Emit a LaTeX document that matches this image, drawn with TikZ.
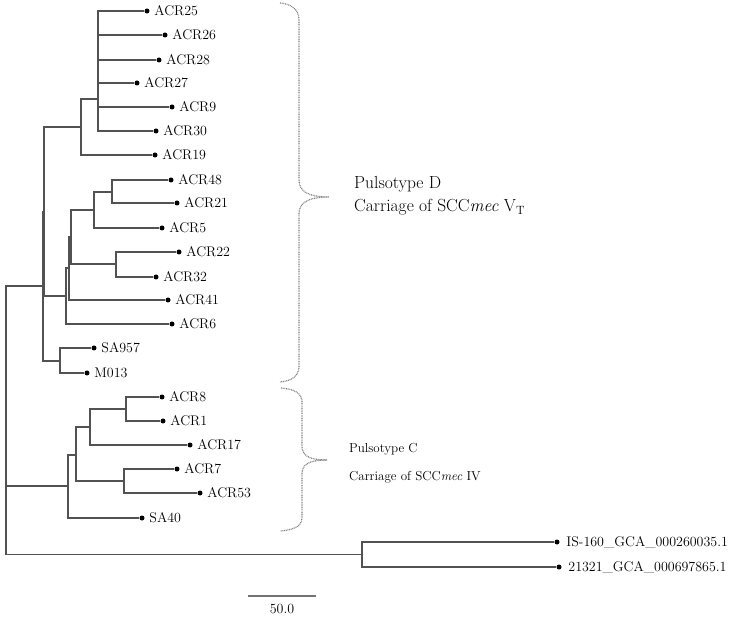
\documentclass[tikz,border=0pt]{standalone}
\usetikzlibrary{positioning}
\begin{document}
\begin{tikzpicture}[x=1pt, y=-1pt,
  branch/.style={line width=1.2pt, black!68},
  leaf/.style={circle, fill=black, inner sep=0pt, minimum size=5pt},
  lbl/.style={inner sep=0pt, font=\fontsize{14}{16}\selectfont, text height=9.6pt, text depth=0pt},
  brc/.style={line width=1.2pt, black!50, dash pattern=on 0.9pt off 0.8pt},
  note/.style={inner sep=0pt, anchor=base west}]

  \useasboundingbox (0,0) rectangle (731,617);

  % leaves
  \foreach \n/\x/\y/\t in
    {
        acr25/147/11/ACR25, acr26/165/35/ACR26, acr28/159/60/ACR28,
        acr27/137/83/ACR27, acr9/172/107/ACR9, acr30/156/131/ACR30,
        acr19/155/155/ACR19, acr48/171/180/ACR48, acr21/177/203/ACR21,
        acr5/162/228/ACR5, acr22/179/252/ACR22, acr32/156/277/ACR32,
        acr41/168/300/ACR41, acr6/172/324/ACR6, sa957/94/348/SA957,
        m013/87/373/M013, acr8/162/397/ACR8, acr1/163/421/ACR1,
        acr17/190/445/ACR17, acr7/177/469/ACR7, acr53/200/493/ACR53,
        sa40/142/518/SA40}
    {
        \node[leaf] (\n) at (\x,\y) {};
        \node[lbl, right=4.5pt of \n] (\n-l) {\t};
    }
  \node[leaf] (is160) at (557,542) {};
  \node[lbl, right=6.5pt of is160] (is160-l) {IS-160\_GCA\_000260035.1};
  \node[leaf] (g21321) at (559,567) {};
  \node[lbl, right=6.5pt of g21321] (g21321-l) {21321\_GCA\_000697865.1};

  % internal nodes
  \coordinate (a1) at (98,99);
  \coordinate (a2) at (81,127);
  \coordinate (b1) at (112,192);
  \coordinate (b2) at (94,210);
  \coordinate (b3) at (116,264);
  \coordinate (b4) at (71,237);
  \coordinate (b5) at (69,268);
  \coordinate (b6) at (66,296);
  \coordinate (d1) at (44,212);
  \coordinate (s1) at (60,361);
  \coordinate (d2) at (43,286);
  \coordinate (c1) at (126,409);
  \coordinate (c2) at (90,427);
  \coordinate (c3) at (124,481);
  \coordinate (c4) at (76,455);
  \coordinate (c5) at (68,486);
  \coordinate (o1) at (362,554.5);
  \coordinate (root) at (6,420);

  \foreach \p/\c in
    {
        a1/acr25, a1/acr26, a1/acr28, a1/acr27, a1/acr9, a1/acr30,
        a2/a1, a2/acr19, b1/acr48, b1/acr21, b2/b1, b2/acr5,
        b3/acr22, b3/acr32, b4/b2, b4/b3, b5/b4, b5/acr41,
        b6/b5, b6/acr6, d1/a2, d1/b6, s1/sa957, s1/m013, d2/d1, d2/s1,
        c1/acr8, c1/acr1, c2/c1, c2/acr17, c3/acr7, c3/acr53,
        c4/c2, c4/c3, c5/c4, c5/sa40, o1/is160, o1/g21321,
        root/d2, root/c5, root/o1}
    {
        \draw[branch] (\p) |- (\c);
    }

  % braces
  \draw[brc] (280,3) .. controls (292,4) and (299,10) .. (299,20) -- (299,180)
    .. controls (299,190) and (306,197) .. (329,197)
    .. controls (306,197) and (299,204) .. (299,214) -- (299,366)
    .. controls (299,376) and (292,381) .. (280,382);
  \draw[brc] (281,388) .. controls (294,389) and (302,393) .. (302,402) -- (302,446)
    .. controls (302,455) and (308,460) .. (327,460)
    .. controls (308,460) and (302,465) .. (302,474) -- (302,518)
    .. controls (302,526) and (294,530) .. (280,531);

  \node[note, font=\fontsize{17.5}{21}\selectfont] (ptd) at (354,189) {Pulsotype D};
  \node[note, font=\fontsize{17.5}{21}\selectfont] (ptdc) at (354,212)
    {Carriage of SCC\textit{mec} V$_{\mathrm{T}}$};
  \node[note, font=\fontsize{13}{16}\selectfont] (ptc) at (349,453) {Pulsotype C};
  \node[note, font=\fontsize{13}{16}\selectfont] (ptcc) at (349,480)
    {Carriage of SCC\textit{mec} IV};

  % scale bar
  \coordinate (sb1) at (248,596);
  \coordinate (sb2) at (316,596);
  \draw[branch, line width=1.4pt, black!55] (sb1) -- (sb2);
  \node[lbl] (sbl) at (282,609) {50.0};

\end{tikzpicture}
\end{document}
